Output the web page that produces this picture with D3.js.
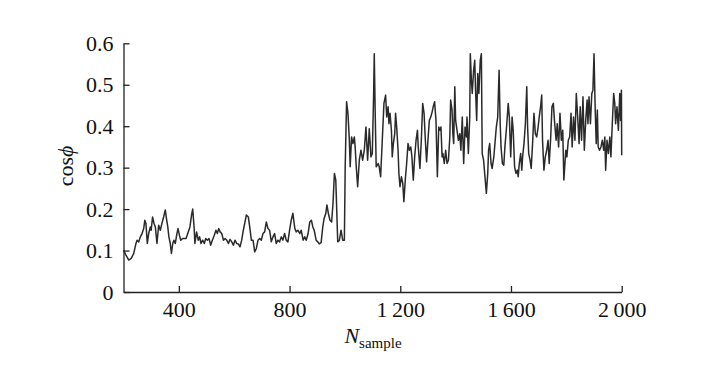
<!DOCTYPE html>
<html>
<head>
<meta charset="utf-8">
<script src="https://cdn.jsdelivr.net/npm/d3@7"></script>
<style>
  body { margin: 0; background: #fff; }
  text { font-family: "Liberation Serif", "Times New Roman", serif; }
</style>
</head>
<body>
<script>
// sample index (x) and cos(phi) (y)
var nSample = [
  200, 209, 219, 228, 237, 245, 249, 255, 261, 267, 273, 277, 281, 286, 291, 297, 300, 305, 310, 315,
  321, 327, 333, 339, 345, 351, 355, 360, 364, 369, 373, 378, 382, 387, 393, 397, 402, 407, 414, 421,
  426, 434, 440, 446, 450, 455, 458, 464, 470, 475, 480, 486, 492, 497, 503, 509, 515, 521, 528, 534,
  539, 544, 549, 555, 561, 567, 573, 579, 585, 591, 597, 603, 609, 615, 621, 627, 633, 639, 644, 651,
  656, 662, 668, 674, 680, 686, 692, 698, 704, 710, 716, 722, 728, 734, 740, 746, 752, 758, 764, 770,
  776, 782, 788, 794, 800, 806, 812, 819, 824, 830, 837, 842, 849, 855, 860, 867, 873, 879, 884, 889,
  896, 902, 907, 914, 920, 925, 931, 935, 940, 946, 952, 957, 962, 967, 970, 974, 980, 986, 992, 998,
  1001, 1006, 1011, 1016, 1019, 1024, 1029, 1034, 1037, 1041, 1046, 1052, 1058, 1064, 1070, 1076, 1082, 1088, 1094, 1099,
  1104, 1106, 1109, 1113, 1120, 1124, 1129, 1135, 1141, 1147, 1151, 1156, 1159, 1163, 1168, 1171, 1175, 1180, 1183, 1187,
  1192, 1195, 1199, 1204, 1209, 1213, 1218, 1223, 1228, 1233, 1238, 1242, 1247, 1252, 1257, 1262, 1265, 1271, 1276, 1281,
  1286, 1290, 1295, 1300, 1305, 1310, 1315, 1319, 1324, 1329, 1334, 1339, 1344, 1347, 1351, 1354, 1359, 1364, 1369, 1374,
  1379, 1382, 1387, 1390, 1393, 1397, 1400, 1405, 1410, 1415, 1419, 1424, 1429, 1434, 1439, 1441, 1446, 1451, 1453, 1457,
  1460, 1465, 1469, 1472, 1476, 1480, 1484, 1489, 1493, 1496, 1501, 1505, 1511, 1516, 1519, 1523, 1528, 1532, 1538, 1542,
  1547, 1552, 1557, 1561, 1564, 1569, 1574, 1578, 1584, 1590, 1594, 1599, 1604, 1608, 1613, 1618, 1623, 1626, 1630, 1635,
  1639, 1642, 1647, 1652, 1657, 1660, 1664, 1669, 1673, 1678, 1683, 1688, 1693, 1698, 1702, 1707, 1711, 1714, 1719, 1724,
  1729, 1734, 1738, 1743, 1748, 1753, 1757, 1763, 1767, 1772, 1777, 1782, 1787, 1791, 1798, 1802, 1807, 1812, 1817, 1821,
  1826, 1831, 1836, 1841, 1846, 1850, 1855, 1860, 1865, 1870, 1875, 1878, 1882, 1887, 1892, 1896, 1900, 1904, 1908, 1912,
  1915, 1920, 1925, 1930, 1935, 1939, 1942, 1947, 1952, 1957, 1961, 1966, 1971, 1975, 1978, 1983, 1988, 1993, 1996, 1999,
  2000
];
var cosPhi = [
  0.101, 0.089, 0.077, 0.081, 0.093, 0.117, 0.125, 0.121, 0.133, 0.141, 0.153, 0.173, 0.166, 0.117, 0.141, 0.157, 0.149, 0.181, 0.166, 0.157,
  0.117, 0.161, 0.149, 0.166, 0.181, 0.198, 0.178, 0.157, 0.133, 0.117, 0.093, 0.117, 0.125, 0.117, 0.141, 0.153, 0.137, 0.125, 0.129, 0.129,
  0.129, 0.145, 0.157, 0.186, 0.200, 0.157, 0.117, 0.145, 0.125, 0.133, 0.117, 0.125, 0.117, 0.129, 0.125, 0.129, 0.113, 0.125, 0.137, 0.149,
  0.141, 0.153, 0.145, 0.141, 0.125, 0.129, 0.125, 0.117, 0.127, 0.121, 0.113, 0.125, 0.117, 0.116, 0.109, 0.125, 0.149, 0.169, 0.186, 0.181,
  0.157, 0.125, 0.125, 0.097, 0.105, 0.125, 0.129, 0.125, 0.141, 0.145, 0.169, 0.153, 0.149, 0.121, 0.133, 0.141, 0.117, 0.125, 0.121, 0.133,
  0.125, 0.141, 0.125, 0.121, 0.149, 0.173, 0.190, 0.153, 0.145, 0.149, 0.141, 0.149, 0.125, 0.133, 0.125, 0.141, 0.169, 0.173, 0.157, 0.149,
  0.125, 0.121, 0.116, 0.119, 0.157, 0.178, 0.190, 0.210, 0.190, 0.173, 0.169, 0.214, 0.286, 0.270, 0.206, 0.121, 0.125, 0.149, 0.125, 0.125,
  0.302, 0.459, 0.431, 0.366, 0.302, 0.374, 0.358, 0.374, 0.350, 0.302, 0.254, 0.318, 0.342, 0.318, 0.342, 0.398, 0.318, 0.394, 0.326, 0.334,
  0.487, 0.575, 0.447, 0.302, 0.310, 0.302, 0.278, 0.366, 0.455, 0.475, 0.422, 0.447, 0.406, 0.431, 0.390, 0.326, 0.358, 0.382, 0.431, 0.398,
  0.342, 0.286, 0.254, 0.278, 0.262, 0.218, 0.270, 0.310, 0.358, 0.342, 0.350, 0.326, 0.270, 0.326, 0.366, 0.390, 0.350, 0.298, 0.366, 0.455,
  0.431, 0.374, 0.314, 0.366, 0.414, 0.422, 0.434, 0.447, 0.459, 0.414, 0.278, 0.398, 0.390, 0.398, 0.326, 0.334, 0.310, 0.342, 0.310, 0.318,
  0.374, 0.463, 0.439, 0.382, 0.358, 0.495, 0.414, 0.390, 0.366, 0.382, 0.342, 0.422, 0.310, 0.398, 0.374, 0.422, 0.334, 0.422, 0.575, 0.511,
  0.479, 0.535, 0.559, 0.487, 0.414, 0.527, 0.479, 0.559, 0.575, 0.334, 0.318, 0.286, 0.238, 0.286, 0.342, 0.358, 0.310, 0.298, 0.326, 0.358,
  0.398, 0.422, 0.535, 0.406, 0.350, 0.310, 0.306, 0.350, 0.398, 0.455, 0.422, 0.326, 0.422, 0.390, 0.302, 0.286, 0.294, 0.278, 0.310, 0.334,
  0.294, 0.326, 0.358, 0.406, 0.495, 0.398, 0.334, 0.318, 0.298, 0.358, 0.431, 0.382, 0.374, 0.398, 0.422, 0.447, 0.475, 0.366, 0.294, 0.326,
  0.342, 0.366, 0.310, 0.366, 0.447, 0.455, 0.414, 0.366, 0.406, 0.350, 0.431, 0.366, 0.390, 0.270, 0.342, 0.326, 0.366, 0.374, 0.431, 0.350,
  0.422, 0.366, 0.479, 0.422, 0.358, 0.447, 0.366, 0.471, 0.342, 0.414, 0.463, 0.406, 0.471, 0.406, 0.479, 0.487, 0.575, 0.447, 0.358, 0.439,
  0.350, 0.342, 0.350, 0.366, 0.342, 0.374, 0.294, 0.366, 0.334, 0.374, 0.326, 0.406, 0.479, 0.455, 0.406, 0.447, 0.390, 0.479, 0.414, 0.487,
  0.330
];

var xTicks = [400, 800, 1200, 1600, 2000];
var yTicks = [0, 0.1, 0.2, 0.3, 0.4, 0.5, 0.6];

var width = 707,
    height = 371;

var svg = d3.select("body").append("svg")
    .attr("width", width)
    .attr("height", height);

var x = d3.scaleLinear().domain([200, 2000]).range([123.5, 621.7]);
var y = d3.scaleLinear().domain([0, 0.6]).range([292, 43.3]);

// "1 200" style grouping with a thin space
var fmtX = d3.formatLocale({ decimal: ".", thousands: "\u2009", grouping: [3], currency: ["", ""] }).format(",");
var fmtY = d => d === 0 ? "0" : d3.format(".1f")(d);

// curve
var line = d3.line()
    .x((d, i) => x(nSample[i]))
    .y(d => y(d));

svg.append("path")
    .datum(cosPhi)
    .attr("fill", "none")
    .attr("stroke", "#2a2a2a")
    .attr("stroke-width", 1.5)
    .attr("stroke-linejoin", "round")
    .attr("d", line);

// axes, ticks pointing inward
var xAxis = svg.append("g")
    .attr("transform", "translate(0,292)")
    .call(d3.axisBottom(x).tickValues(xTicks).tickFormat(fmtX)
      .tickSizeInner(-6).tickSizeOuter(0).tickPadding(9));

var yAxis = svg.append("g")
    .attr("transform", "translate(123.5,0)")
    .call(d3.axisLeft(y).tickValues(yTicks).tickFormat(fmtY)
      .tickSizeInner(-6).tickSizeOuter(0).tickPadding(10));

[xAxis, yAxis].forEach(function(g) {
  g.select(".domain").attr("stroke", "#222").attr("stroke-width", 1.3);
  g.selectAll(".tick line").attr("stroke", "#222").attr("stroke-width", 1.3);
  g.selectAll(".tick text")
    .attr("fill", "#111")
    .style("font-family", "'Liberation Serif', serif")
    .style("font-size", "22px");
});

// axis titles
var xTitle = svg.append("text")
    .attr("x", 373)
    .attr("y", 343)
    .attr("text-anchor", "middle")
    .attr("fill", "#111")
    .style("font-size", "22px");
xTitle.append("tspan").style("font-style", "italic").text("N");
xTitle.append("tspan").attr("dy", 5).style("font-size", "15px").text("sample");

var yTitle = svg.append("text")
    .attr("transform", "translate(73,166) rotate(-90)")
    .attr("text-anchor", "middle")
    .attr("fill", "#111")
    .style("font-size", "22px");
yTitle.append("tspan").text("cos");
yTitle.append("tspan").style("font-style", "italic").text("\u03d5");
</script>
</body>
</html>
